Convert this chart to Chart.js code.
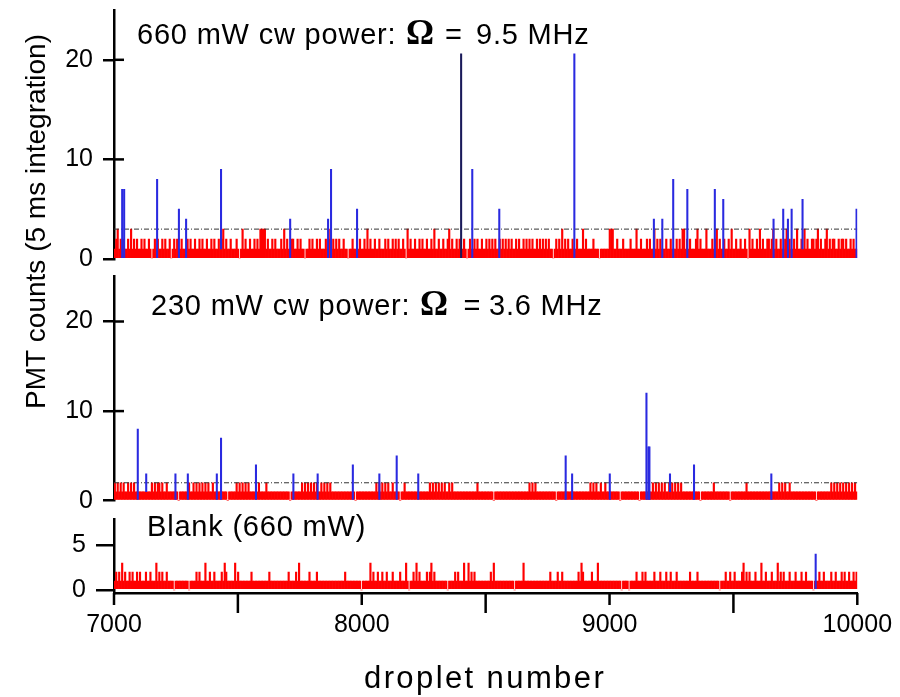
<!DOCTYPE html>
<html>
<head>
<meta charset="utf-8">
<script src="https://cdn.jsdelivr.net/npm/chart.js@4.4.1/dist/chart.umd.min.js"></script>
<style>
  body { margin: 0; background: #fff; }
  #wrap { position: relative; width: 900px; height: 697px; }
  #wrap canvas { position: absolute; left: 0; top: 0; }
</style>
</head>
<body>
<div id="wrap">
  <canvas id="top" width="900" height="697"></canvas>
  <canvas id="mid" width="900" height="697"></canvas>
  <canvas id="blank" width="900" height="697"></canvas>
</div>
<script>
// droplets are grouped in bins of 6, starting at droplet 7000
const binStart = 7000;
const binSize = 6;

// red: max PMT count in each bin (500 bins per panel)
const topNoise = `
1231212112 1312121121 2112101212 1121211201 2121121112
1211211212 1121121211 2123121121 1121013121 1211212133
3312112121 1121312112 2112121101 1212112121 1121231212
1211211011 2112121121 3121121121 1121211212 1211210312
1121121211 2112131121 1211231211 2121121012 1121211211
2121212112 1212121211 2121121212 1211212121 2121101212
1312121121 1211131211 1121110111 1113331121 1121111211
1311211121 2113121211 1211211121 2133121211 1231211131
1121231211 2112131121 1211210312 1121312112 2123121121
1231211213 1121312112 2123121123 1212211212 2121121211`;

const midNoise = `
2121212112 1212111111 1111121212 2121121111 1110111111
2112121212 1212112111 1111110111 1121212121 2111111211
1121111111 1111111101 1111112121 2121212112 1212121111
1111111111 1101111111 1111112121 2121211211 1101121111
1111111111 1121212121 2121121211 1111111111 1111211111
1111101111 1111111111 1111111112 1212111111 1111111011
1111111111 1111111111 2121211211 2111111111 0111111111
1110111111 1121212121 2112121212 1211111111 1111011111
1112111111 1111011111 1111121111 1111111111 1111111212
1211211111 1111111111 1101111111 1121212121 2121212121`;

const blankNoise = `
1212131211 2121121211 1211211131 2121121111 0111111111
0111121211 1311211211 1121321111 1312111111 1121111111
1111211111 1111111211 1121311111 1211112111 1111111111
1111121111 1111110111 1131211211 2112111211 1121113101
1213121111 2123121111 1111011112 1211131131 2121111111
1112131111 1111111110 1111131111 1111111111 1112111121
1211111111 1121321111 1211131111 1111111111 1011110111
1211121211 1112111211 1211211121 1111111211 1121111111
1111111011 1211211211 1123121211 1211131121 1121113121
2111211121 1121121111 0111211211 1121121112 1211211212`;

// blue: single droplets above threshold
const topSpikeDroplets = [7033, 7041, 7174, 7262, 7291, 7432, 7711, 7864, 7876, 7981, 8401, 8446, 8555,
  8858, 9179, 9213, 9257, 9314, 9425, 9459, 9662, 9701, 9720, 9735, 9779, 9997];
const topSpikeCounts = [7, 7, 8, 5, 4, 9, 4, 4, 9, 5, 20.6, 9, 5,
  20.6, 4, 4, 8, 7, 7, 6, 4, 5, 4, 5, 6, 5];
const topSpikeBase = [0, 0, 0, 0, 0, 1, 0, 0, 0, 0, 0, 0, 0,
  0, 0, 0, 0, 0, 0, 0, 0, 0, 0, 0, 1, 0];

const midSpikeDroplets = [7096, 7130, 7248, 7298, 7415, 7432, 7573, 7724, 7822, 7964, 8071, 8141, 8228,
  8823, 8849, 9001, 9149, 9157, 9161, 9244, 9341, 9653];
const midSpikeCounts = [8, 3, 3, 3, 3, 7, 4, 3, 3, 4, 3, 5, 3,
  5, 3, 3, 12, 6, 6, 3, 4, 3];
const midSpikeBase = [0, 1, 0, 0, 0, 0, 0, 0, 0, 0, 0, 0, 0,
  0, 0, 0, 0, 0, 0, 1, 0, 0];

const blankSpikeDroplets = [9832];
const blankSpikeCounts = [4];
const blankSpikeBase = [0];

// thresholds (dash-dot lines)
const topThreshold = 3;
const midThreshold = 2;

const xTicks = [7000, 7500, 8000, 8500, 9000, 9500, 10000];
const topYTicks = [0, 10, 20];
const midYTicks = [0, 10, 20];
const blankYTicks = [0, 5];

const sans = "'Liberation Sans', Arial, sans-serif";
const serif = "'Liberation Serif', 'Times New Roman', serif";
const darkSpike = 8401;

const toCounts = s => s.replace(/\s/g, '').split('').map(Number);

function overlay(opts) {
  return {
    id: 'overlay',
    afterDraw(chart) {
      const ctx = chart.ctx;
      const area = chart.chartArea;
      ctx.save();
      ctx.strokeStyle = '#000';
      ctx.lineWidth = 2.5;
      (opts.innerTicks || []).forEach(v => {
        const py = chart.scales.y.getPixelForValue(v);
        ctx.beginPath();
        ctx.moveTo(area.left, py);
        ctx.lineTo(area.left + 10, py);
        ctx.stroke();
      });
      if (opts.xTicks) {
        opts.xTicks.forEach(v => {
          const px = chart.scales.x.getPixelForValue(v);
          const len = v % 1000 === 0 ? 12 : 20;
          ctx.beginPath();
          ctx.moveTo(px, area.bottom);
          ctx.lineTo(px, area.bottom + len);
          ctx.stroke();
        });
      }
      ctx.fillStyle = '#000';
      ctx.textBaseline = 'alphabetic';
      (opts.texts || []).forEach(t => {
        ctx.save();
        ctx.font = t.font;
        ctx.letterSpacing = t.spacing || '0px';
        ctx.textAlign = t.align || 'left';
        ctx.translate(t.x, t.y);
        if (t.rotate) ctx.rotate(t.rotate);
        ctx.fillText(t.text, 0, 0);
        ctx.restore();
      });
      ctx.restore();
    }
  };
}

function makePanel(id, p) {
  const noise = toCounts(p.noise);
  const datasets = [
    {
      type: 'bar',
      label: 'above threshold',
      data: p.spikeX.map((x, i) => ({ x: x, y: [p.spikeBase[i], p.spikeY[i]] })),
      backgroundColor: c => (c.raw && c.raw.x === darkSpike ? '#1a1a5a' : '#2a2ae0'),
      barThickness: 1.4,
      grouped: false,
      order: 0
    },
    {
      type: 'bar',
      label: 'counts',
      data: noise.map((v, i) => ({ x: binStart + binSize * (i + 0.5), y: v })),
      backgroundColor: '#ff0000',
      barThickness: 1.5,
      grouped: false,
      order: 2
    }
  ];
  if (p.threshold != null) {
    datasets.push({
      type: 'line',
      label: 'threshold',
      data: [{ x: 7000, y: p.threshold }, { x: 10000, y: p.threshold }],
      borderColor: '#333',
      borderWidth: 1,
      borderDash: [5, 2, 1, 2],
      pointRadius: 0,
      order: 1
    });
  }

  new Chart(document.getElementById(id), {
    type: 'bar',
    data: { datasets },
    options: {
      responsive: false,
      animation: false,
      events: [],
      layout: { padding: p.padding },
      plugins: { legend: { display: false }, tooltip: { enabled: false } },
      scales: {
        x: {
          type: 'linear',
          display: p.showX,
          min: 7000,
          max: 10000,
          offset: false,
          afterBuildTicks: s => { s.ticks = xTicks.map(v => ({ value: v })); },
          afterFit: s => {
            s.height = p.showX ? 104 : 0;
            s.paddingLeft = 0;
            s.paddingRight = 0;
          },
          ticks: {
            autoSkip: false,
            maxRotation: 0,
            padding: 17,
            color: '#000',
            font: { family: sans, size: 25 },
            callback: v => (v % 1000 === 0 ? String(v) : '')
          },
          grid: { offset: false, drawOnChartArea: false, drawTicks: false },
          border: { display: true, color: '#000', width: 2.5 }
        },
        y: {
          min: p.yMin,
          max: p.yMax,
          afterBuildTicks: s => { s.ticks = p.yTicks.map(v => ({ value: v })); },
          afterFit: s => { s.width = 114; s.paddingTop = 0; s.paddingBottom = 0; },
          ticks: {
            padding: p.labelPad,
            color: '#000',
            font: { family: sans, size: 25 },
            callback: v => String(v)
          },
          grid: { drawOnChartArea: false, color: '#000', lineWidth: 2.5, tickLength: p.tickLen },
          border: { display: true, color: '#000', width: 2.5 }
        }
      }
    },
    plugins: [overlay(p.overlay)]
  });
}

makePanel('top', {
  noise: topNoise,
  spikeX: topSpikeDroplets, spikeY: topSpikeCounts, spikeBase: topSpikeBase,
  threshold: topThreshold,
  yMin: 0, yMax: 25, yTicks: topYTicks,
  tickLen: 11, labelPad: 10,
  showX: false,
  padding: { top: 10, bottom: 438, left: 0, right: 42.7 },
  overlay: {
    innerTicks: [10, 20],
    texts: [
      { text: '660 mW cw power:', x: 137, y: 44, font: `29px ${sans}`, spacing: '0.8px' },
      { text: 'Ω', x: 406, y: 44, font: `bold 35px ${serif}` },
      { text: '=', x: 445, y: 44, font: `29px ${sans}` },
      { text: '9.5 MHz', x: 476, y: 44, font: `29px ${sans}`, spacing: '0.8px' }
    ]
  }
});

makePanel('mid', {
  noise: midNoise,
  spikeX: midSpikeDroplets, spikeY: midSpikeCounts, spikeBase: midSpikeBase,
  threshold: midThreshold,
  yMin: 0, yMax: 25, yTicks: midYTicks,
  tickLen: 11, labelPad: 10,
  showX: false,
  padding: { top: 276.7, bottom: 196.3, left: 0, right: 42.7 },
  overlay: {
    innerTicks: [10, 20],
    texts: [
      { text: '230 mW cw power:', x: 151, y: 315, font: `29px ${sans}`, spacing: '0.8px' },
      { text: 'Ω', x: 420, y: 315, font: `bold 35px ${serif}` },
      { text: '=', x: 463.5, y: 315, font: `29px ${sans}` },
      { text: '3.6 MHz', x: 489, y: 315, font: `29px ${sans}`, spacing: '0.8px' },
      { text: 'PMT counts (5 ms integration)', x: 45, y: 221.5, font: `28px ${sans}`,
        align: 'center', rotate: -Math.PI / 2 }
    ]
  }
});

makePanel('blank', {
  noise: blankNoise,
  spikeX: blankSpikeDroplets, spikeY: blankSpikeCounts, spikeBase: blankSpikeBase,
  threshold: null,
  yMin: -0.33, yMax: 7.9, yTicks: blankYTicks,
  tickLen: 18, labelPad: 10,
  showX: true,
  padding: { top: 519, bottom: 0, left: 0, right: 42.7 },
  overlay: {
    innerTicks: [],
    xTicks: xTicks,
    texts: [
      { text: 'Blank (660 mW)', x: 147, y: 536, font: `29px ${sans}`, spacing: '0.8px' },
      { text: 'droplet number', x: 364, y: 688, font: `31px ${sans}`, spacing: '2.4px' }
    ]
  }
});
</script>
</body>
</html>
